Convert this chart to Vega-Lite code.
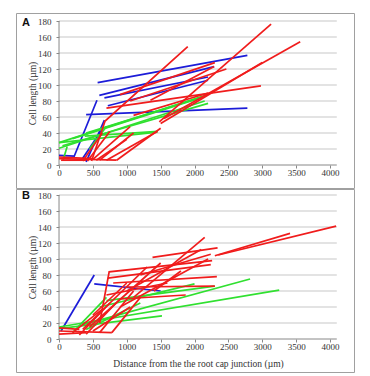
{
  "$schema": "https://vega.github.io/schema/vega-lite/v6.json",
  "padding": {"left": 15, "top": 12, "right": 0, "bottom": 0},
  "spacing": -3,
  "config": {
    "view": {"stroke": "#a0a0a0", "strokeWidth": 1},
    "axis": {"labelFont": "Liberation Serif", "labelFontSize": 9, "labelColor": "#333", "labelOverlap": false, "labelFlush": false, "labelBound": false, "titleFont": "Liberation Serif", "titleFontSize": 9.5, "titleFontWeight": "normal", "titleColor": "#333", "tickColor": "#888", "tickSize": 3, "domain": false, "grid": false, "format": "d", "tickCount": 20},
    "title": {"font": "Liberation Sans", "fontSize": 11, "fontWeight": "bold", "anchor": "start", "frame": "group", "baseline": "top", "color": "#111"}
  },
  "datasets": {
    "grid": [{"y": 20}, {"y": 40}, {"y": 60}, {"y": 80}, {"y": 100}, {"y": 120}, {"y": 140}, {"y": 160}, {"y": 180}],
    "lines": [
      {"p":"A","id":"ab1","c":"blue","o":1,"x":570,"y":103},{"p":"A","id":"ab1","c":"blue","o":2,"x":2780,"y":137},
      {"p":"A","id":"ab2","c":"blue","o":1,"x":595,"y":87},{"p":"A","id":"ab2","c":"blue","o":2,"x":2290,"y":123},
      {"p":"A","id":"ab3","c":"blue","o":1,"x":670,"y":84},{"p":"A","id":"ab3","c":"blue","o":2,"x":2200,"y":110},
      {"p":"A","id":"ab4","c":"blue","o":1,"x":720,"y":74},{"p":"A","id":"ab4","c":"blue","o":2,"x":2200,"y":106},
      {"p":"A","id":"ab5","c":"blue","o":1,"x":400,"y":63},{"p":"A","id":"ab5","c":"blue","o":2,"x":2780,"y":71},
      {"p":"A","id":"ab6","c":"blue","o":1,"x":220,"y":10},{"p":"A","id":"ab6","c":"blue","o":2,"x":560,"y":81},
      {"p":"A","id":"ab7","c":"blue","o":1,"x":400,"y":4},{"p":"A","id":"ab7","c":"blue","o":2,"x":670,"y":56},
      {"p":"A","id":"ab8","c":"blue","o":1,"x":0,"y":12},{"p":"A","id":"ab8","c":"blue","o":2,"x":220,"y":11},
      {"p":"A","id":"ab9","c":"blue","o":1,"x":330,"y":6},{"p":"A","id":"ab9","c":"blue","o":2,"x":640,"y":45},
      {"p":"A","id":"ag1","c":"green","o":1,"x":0,"y":28},{"p":"A","id":"ag1","c":"green","o":2,"x":2200,"y":88},
      {"p":"A","id":"ag2","c":"green","o":1,"x":0,"y":21},{"p":"A","id":"ag2","c":"green","o":2,"x":2150,"y":80},
      {"p":"A","id":"ag3","c":"green","o":1,"x":50,"y":24},{"p":"A","id":"ag3","c":"green","o":2,"x":2200,"y":77},
      {"p":"A","id":"ag4","c":"green","o":1,"x":200,"y":33},{"p":"A","id":"ag4","c":"green","o":2,"x":2100,"y":84},
      {"p":"A","id":"ag5","c":"green","o":1,"x":0,"y":28},{"p":"A","id":"ag5","c":"green","o":2,"x":1450,"y":41},
      {"p":"A","id":"ag6","c":"green","o":1,"x":380,"y":36},{"p":"A","id":"ag6","c":"green","o":2,"x":1460,"y":42},
      {"p":"A","id":"ag7","c":"green","o":1,"x":60,"y":6},{"p":"A","id":"ag7","c":"green","o":2,"x":120,"y":23},
      {"p":"A","id":"ag8","c":"green","o":1,"x":450,"y":20},{"p":"A","id":"ag8","c":"green","o":2,"x":700,"y":48},
      {"p":"A","id":"ag9","c":"green","o":1,"x":400,"y":40},{"p":"A","id":"ag9","c":"green","o":2,"x":2150,"y":86},
      {"p":"A","id":"ar1","c":"red","o":1,"x":480,"y":5},{"p":"A","id":"ar1","c":"red","o":2,"x":680,"y":55},{"p":"A","id":"ar1","c":"red","o":3,"x":1900,"y":148},
      {"p":"A","id":"ar2","c":"red","o":1,"x":1480,"y":54},{"p":"A","id":"ar2","c":"red","o":2,"x":3130,"y":176},
      {"p":"A","id":"ar3","c":"red","o":1,"x":1550,"y":58},{"p":"A","id":"ar3","c":"red","o":2,"x":3560,"y":154},
      {"p":"A","id":"ar4","c":"red","o":1,"x":1500,"y":52},{"p":"A","id":"ar4","c":"red","o":2,"x":3000,"y":128},
      {"p":"A","id":"ar5","c":"red","o":1,"x":700,"y":71},{"p":"A","id":"ar5","c":"red","o":2,"x":2980,"y":99},
      {"p":"A","id":"ar6","c":"red","o":1,"x":1050,"y":80},{"p":"A","id":"ar6","c":"red","o":2,"x":2470,"y":120},
      {"p":"A","id":"ar7","c":"red","o":1,"x":900,"y":88},{"p":"A","id":"ar7","c":"red","o":2,"x":2300,"y":128},
      {"p":"A","id":"ar8","c":"red","o":1,"x":1350,"y":81},{"p":"A","id":"ar8","c":"red","o":2,"x":2290,"y":123},
      {"p":"A","id":"ar9","c":"red","o":1,"x":1100,"y":62},{"p":"A","id":"ar9","c":"red","o":2,"x":2200,"y":90},
      {"p":"A","id":"ar10","c":"red","o":1,"x":850,"y":6},{"p":"A","id":"ar10","c":"red","o":2,"x":1500,"y":46},
      {"p":"A","id":"ar11","c":"red","o":1,"x":700,"y":6},{"p":"A","id":"ar11","c":"red","o":2,"x":1450,"y":42},
      {"p":"A","id":"ar12","c":"red","o":1,"x":600,"y":6},{"p":"A","id":"ar12","c":"red","o":2,"x":1100,"y":40},
      {"p":"A","id":"ar13","c":"red","o":1,"x":550,"y":6},{"p":"A","id":"ar13","c":"red","o":2,"x":1000,"y":32},
      {"p":"A","id":"ar14","c":"red","o":1,"x":500,"y":7},{"p":"A","id":"ar14","c":"red","o":2,"x":1050,"y":48},
      {"p":"A","id":"ar15","c":"red","o":1,"x":420,"y":5},{"p":"A","id":"ar15","c":"red","o":2,"x":750,"y":42},
      {"p":"A","id":"ar16","c":"red","o":1,"x":0,"y":8},{"p":"A","id":"ar16","c":"red","o":2,"x":850,"y":6},
      {"p":"A","id":"ar17","c":"red","o":1,"x":0,"y":10},{"p":"A","id":"ar17","c":"red","o":2,"x":500,"y":8},
      {"p":"A","id":"ar18","c":"red","o":1,"x":30,"y":6},{"p":"A","id":"ar18","c":"red","o":2,"x":400,"y":6},
      {"p":"A","id":"ar19","c":"red","o":1,"x":350,"y":5},{"p":"A","id":"ar19","c":"red","o":2,"x":640,"y":40},
      {"p":"B","id":"bb1","c":"blue","o":1,"x":30,"y":10},{"p":"B","id":"bb1","c":"blue","o":2,"x":520,"y":80},
      {"p":"B","id":"bb2","c":"blue","o":1,"x":520,"y":69},{"p":"B","id":"bb2","c":"blue","o":2,"x":1500,"y":60},
      {"p":"B","id":"bg1","c":"green","o":1,"x":0,"y":15},{"p":"B","id":"bg1","c":"green","o":2,"x":3250,"y":61},
      {"p":"B","id":"bg2","c":"green","o":1,"x":350,"y":18},{"p":"B","id":"bg2","c":"green","o":2,"x":2820,"y":75},
      {"p":"B","id":"bg3","c":"green","o":1,"x":600,"y":40},{"p":"B","id":"bg3","c":"green","o":2,"x":2000,"y":69},
      {"p":"B","id":"bg4","c":"green","o":1,"x":0,"y":13},{"p":"B","id":"bg4","c":"green","o":2,"x":1520,"y":29},
      {"p":"B","id":"bg5","c":"green","o":1,"x":700,"y":48},{"p":"B","id":"bg5","c":"green","o":2,"x":2300,"y":66},
      {"p":"B","id":"bg6","c":"green","o":1,"x":200,"y":8},{"p":"B","id":"bg6","c":"green","o":2,"x":700,"y":52},
      {"p":"B","id":"bg7","c":"green","o":1,"x":400,"y":12},{"p":"B","id":"bg7","c":"green","o":2,"x":1200,"y":45},
      {"p":"B","id":"br1","c":"red","o":1,"x":2350,"y":105},{"p":"B","id":"br1","c":"red","o":2,"x":4090,"y":141},
      {"p":"B","id":"br2","c":"red","o":1,"x":2300,"y":104},{"p":"B","id":"br2","c":"red","o":2,"x":3410,"y":132},
      {"p":"B","id":"br3","c":"red","o":1,"x":1100,"y":52},{"p":"B","id":"br3","c":"red","o":2,"x":2150,"y":127},
      {"p":"B","id":"br4","c":"red","o":1,"x":1380,"y":102},{"p":"B","id":"br4","c":"red","o":2,"x":2340,"y":114},
      {"p":"B","id":"br5","c":"red","o":1,"x":600,"y":20},{"p":"B","id":"br5","c":"red","o":2,"x":740,"y":84},{"p":"B","id":"br5","c":"red","o":3,"x":2260,"y":98},
      {"p":"B","id":"br6","c":"red","o":1,"x":720,"y":76},{"p":"B","id":"br6","c":"red","o":2,"x":2240,"y":93},
      {"p":"B","id":"br7","c":"red","o":1,"x":800,"y":70},{"p":"B","id":"br7","c":"red","o":2,"x":2330,"y":78},
      {"p":"B","id":"br8","c":"red","o":1,"x":900,"y":50},{"p":"B","id":"br8","c":"red","o":2,"x":1870,"y":55},
      {"p":"B","id":"br9","c":"red","o":1,"x":1000,"y":65},{"p":"B","id":"br9","c":"red","o":2,"x":2300,"y":66},
      {"p":"B","id":"br10","c":"red","o":1,"x":1000,"y":60},{"p":"B","id":"br10","c":"red","o":2,"x":2100,"y":112},
      {"p":"B","id":"br11","c":"red","o":1,"x":1200,"y":80},{"p":"B","id":"br11","c":"red","o":2,"x":2240,"y":106},
      {"p":"B","id":"br12","c":"red","o":1,"x":900,"y":40},{"p":"B","id":"br12","c":"red","o":2,"x":2200,"y":100},
      {"p":"B","id":"br13","c":"red","o":1,"x":780,"y":8},{"p":"B","id":"br13","c":"red","o":2,"x":1200,"y":52},
      {"p":"B","id":"br14","c":"red","o":1,"x":600,"y":8},{"p":"B","id":"br14","c":"red","o":2,"x":1100,"y":60},
      {"p":"B","id":"br15","c":"red","o":1,"x":500,"y":10},{"p":"B","id":"br15","c":"red","o":2,"x":1050,"y":40},
      {"p":"B","id":"br16","c":"red","o":1,"x":400,"y":6},{"p":"B","id":"br16","c":"red","o":2,"x":900,"y":50},
      {"p":"B","id":"br17","c":"red","o":1,"x":300,"y":5},{"p":"B","id":"br17","c":"red","o":2,"x":750,"y":45},
      {"p":"B","id":"br18","c":"red","o":1,"x":200,"y":8},{"p":"B","id":"br18","c":"red","o":2,"x":650,"y":38},
      {"p":"B","id":"br19","c":"red","o":1,"x":0,"y":10},{"p":"B","id":"br19","c":"red","o":2,"x":780,"y":8},
      {"p":"B","id":"br20","c":"red","o":1,"x":0,"y":6},{"p":"B","id":"br20","c":"red","o":2,"x":400,"y":8},
      {"p":"B","id":"br21","c":"red","o":1,"x":0,"y":14},{"p":"B","id":"br21","c":"red","o":2,"x":300,"y":12},
      {"p":"B","id":"br22","c":"red","o":1,"x":350,"y":12},{"p":"B","id":"br22","c":"red","o":2,"x":1300,"y":90},
      {"p":"B","id":"br23","c":"red","o":1,"x":450,"y":15},{"p":"B","id":"br23","c":"red","o":2,"x":1500,"y":95},
      {"p":"B","id":"br24","c":"red","o":1,"x":700,"y":55},{"p":"B","id":"br24","c":"red","o":2,"x":1600,"y":70},
      {"p":"B","id":"br25","c":"red","o":1,"x":1400,"y":60},{"p":"B","id":"br25","c":"red","o":2,"x":1800,"y":85},
      {"p":"B","id":"br26","c":"red","o":1,"x":500,"y":30},{"p":"B","id":"br26","c":"red","o":2,"x":1000,"y":70}
    ]
  },
  "vconcat": [
    {
      "width": 338, "height": 175,
      "title": {"text": "A", "dx": 6, "offset": -15},
      "layer": [
        {
          "data": {"name": "grid"},
          "mark": {"type": "rule", "color": "#c8c8c8", "strokeWidth": 1.2},
          "encoding": {
            "y": {"field": "y", "type": "quantitative", "scale": {"domain": [-28.75, 190], "nice": false, "zero": false},
                  "axis": {"values": [0, 20, 40, 60, 80, 100, 120, 140, 160, 180], "tickCount": 20, "labelOverlap": false, "offset": -43, "labelPadding": 5, "title": "Cell length (µm)", "titleX": -27, "titleY": 80, "titleBaseline": "middle"}},
            "x": {"datum": 0, "type": "quantitative", "scale": {"domain": [-635, 4354], "nice": false, "zero": false},
                  "axis": {"values": [0, 500, 1000, 1500, 2000, 2500, 3000, 3500, 4000], "tickCount": 20, "labelOverlap": false, "offset": -23, "title": null, "labelPadding": 0}},
            "x2": {"datum": 4100}
          }
        },
        {
          "data": {"values": [{"v": 0}]},
          "mark": {"type": "rule", "color": "#888", "strokeWidth": 1},
          "encoding": {
            "y": {"datum": 0, "type": "quantitative"},
            "x": {"datum": 0, "type": "quantitative"},
            "x2": {"datum": 4100}
          }
        },
        {
          "data": {"values": [{"v": 0}]},
          "mark": {"type": "rule", "color": "#888", "strokeWidth": 1},
          "encoding": {
            "x": {"datum": 0, "type": "quantitative"},
            "y": {"datum": 0, "type": "quantitative"},
            "y2": {"datum": 180}
          }
        },
        {
          "data": {"name": "lines"},
          "transform": [{"filter": "datum.p === 'A'"}],
          "mark": {"type": "line", "strokeWidth": 1.7},
          "encoding": {
            "x": {"field": "x", "type": "quantitative", "scale": {"domain": [-635, 4354], "nice": false, "zero": false},
                  "axis": {"values": [0, 500, 1000, 1500, 2000, 2500, 3000, 3500, 4000], "tickCount": 20, "labelOverlap": false, "offset": -23, "title": null, "labelPadding": 0}},
            "y": {"field": "y", "type": "quantitative", "scale": {"domain": [-28.75, 190], "nice": false, "zero": false},
                  "axis": {"values": [0, 20, 40, 60, 80, 100, 120, 140, 160, 180], "tickCount": 20, "labelOverlap": false, "offset": -43, "labelPadding": 5, "title": "Cell length (µm)", "titleX": -27, "titleY": 80, "titleBaseline": "middle"}},
            "detail": {"field": "id"},
            "order": {"field": "o"},
            "color": {"field": "c", "type": "nominal", "scale": {"domain": ["red", "blue", "green"], "range": ["#f01c1c", "#1c1cd8", "#30e030"]}, "legend": null}
          }
        }
      ]
    },
    {
      "width": 338, "height": 183,
      "title": {"text": "B", "dx": 6, "offset": -12},
      "layer": [
        {
          "data": {"name": "grid"},
          "mark": {"type": "rule", "color": "#c8c8c8", "strokeWidth": 1.2},
          "encoding": {
            "y": {"field": "y", "type": "quantitative", "scale": {"domain": [-41.25, 187.5], "nice": false, "zero": false},
                  "axis": {"values": [0, 20, 40, 60, 80, 100, 120, 140, 160, 180], "tickCount": 20, "labelOverlap": false, "offset": -43, "labelPadding": 5, "title": "Cell length (µm)", "titleX": -27, "titleY": 78, "titleBaseline": "middle"}},
            "x": {"datum": 0, "type": "quantitative", "scale": {"domain": [-635, 4354], "nice": false, "zero": false},
                  "axis": {"values": [0, 500, 1000, 1500, 2000, 2500, 3000, 3500, 4000], "tickCount": 20, "labelOverlap": false, "offset": -33, "labelPadding": 0, "title": "Distance from the the root cap junction (µm)", "titleX": 182, "titleY": 24, "titleBaseline": "middle"}},
            "x2": {"datum": 4100}
          }
        },
        {
          "data": {"values": [{"v": 0}]},
          "mark": {"type": "rule", "color": "#888", "strokeWidth": 1},
          "encoding": {
            "y": {"datum": 0, "type": "quantitative"},
            "x": {"datum": 0, "type": "quantitative"},
            "x2": {"datum": 4100}
          }
        },
        {
          "data": {"values": [{"v": 0}]},
          "mark": {"type": "rule", "color": "#888", "strokeWidth": 1},
          "encoding": {
            "x": {"datum": 0, "type": "quantitative"},
            "y": {"datum": 0, "type": "quantitative"},
            "y2": {"datum": 180}
          }
        },
        {
          "data": {"name": "lines"},
          "transform": [{"filter": "datum.p === 'B'"}],
          "mark": {"type": "line", "strokeWidth": 1.7},
          "encoding": {
            "x": {"field": "x", "type": "quantitative", "scale": {"domain": [-635, 4354], "nice": false, "zero": false},
                  "axis": {"values": [0, 500, 1000, 1500, 2000, 2500, 3000, 3500, 4000], "tickCount": 20, "labelOverlap": false, "offset": -33, "labelPadding": 0, "title": "Distance from the the root cap junction (µm)", "titleX": 182, "titleY": 24, "titleBaseline": "middle"}},
            "y": {"field": "y", "type": "quantitative", "scale": {"domain": [-41.25, 187.5], "nice": false, "zero": false},
                  "axis": {"values": [0, 20, 40, 60, 80, 100, 120, 140, 160, 180], "tickCount": 20, "labelOverlap": false, "offset": -43, "labelPadding": 5, "title": "Cell length (µm)", "titleX": -27, "titleY": 78, "titleBaseline": "middle"}},
            "detail": {"field": "id"},
            "order": {"field": "o"},
            "color": {"field": "c", "type": "nominal", "scale": {"domain": ["red", "blue", "green"], "range": ["#f01c1c", "#1c1cd8", "#30e030"]}, "legend": null}
          }
        }
      ]
    }
  ]
}
